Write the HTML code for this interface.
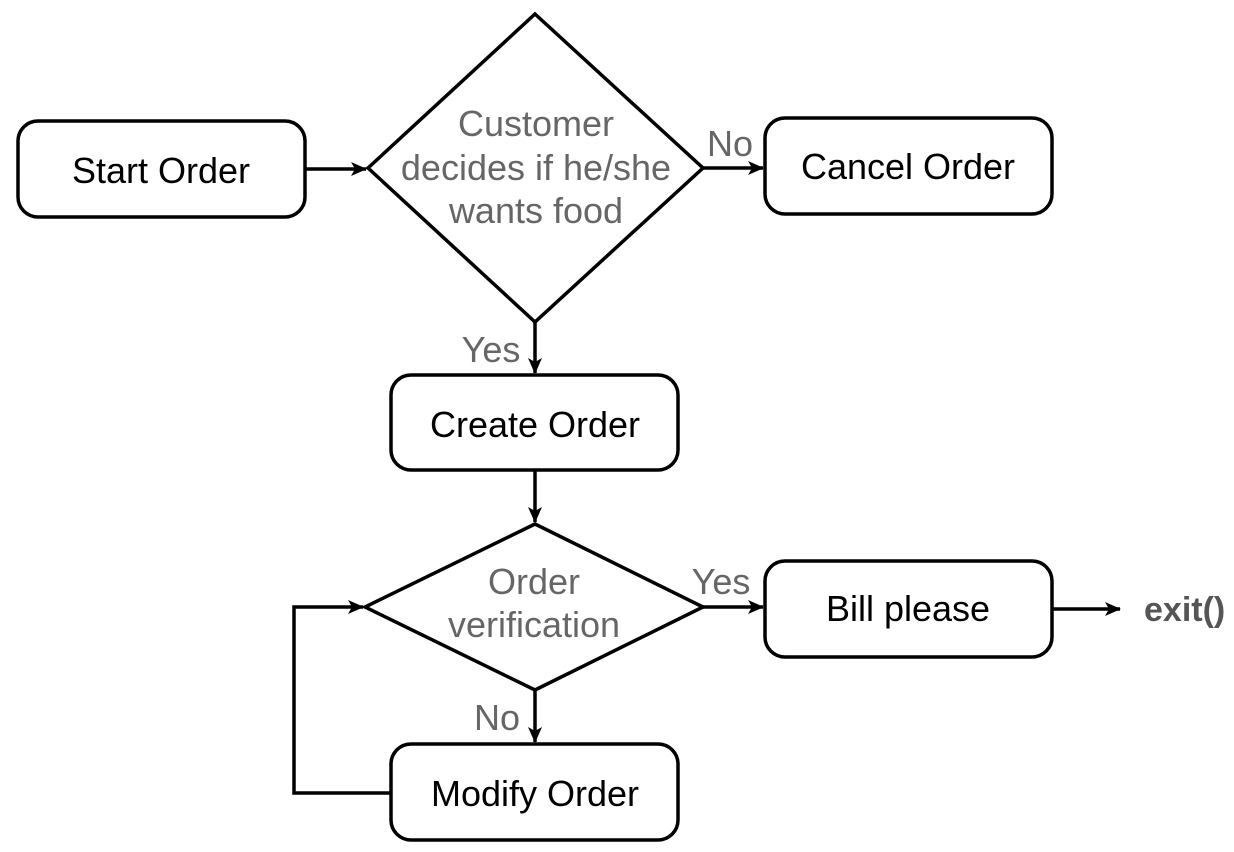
<!DOCTYPE html>
<html><head><meta charset="utf-8"><style>
html,body{margin:0;padding:0;background:#fff;}
svg{display:block;}
text{font-family:"Liberation Sans",Arial,sans-serif;font-size:36px;}
</style></head><body>
<svg width="1234" height="852" viewBox="0 0 1234 852" xmlns="http://www.w3.org/2000/svg">
<defs>
<marker id="b" markerWidth="16" markerHeight="14" refX="15" refY="7" orient="auto" markerUnits="userSpaceOnUse"><path d="M0,0 L16,7 L0,14 L4,7 z" fill="#000"/></marker></defs>
<g fill="none" stroke="#000" stroke-width="3.5">
<rect x="18" y="121" width="287" height="96" rx="20"/>
<polygon points="535,14 703,168 535,322 368,168"/>
<rect x="765" y="118" width="287" height="96" rx="20"/>
<rect x="391" y="375" width="287" height="95" rx="20"/>
<polygon points="535,524 703,607 535,690 365,607"/>
<rect x="765" y="561" width="287" height="96" rx="20"/>
<rect x="391" y="744" width="287" height="96" rx="20"/>
<line x1="305" y1="169" x2="366" y2="169" marker-end="url(#b)"/>
<line x1="703" y1="168" x2="763" y2="168" marker-end="url(#b)"/>
<line x1="535" y1="322" x2="535" y2="373" marker-end="url(#b)"/>
<line x1="535" y1="470" x2="535" y2="522" marker-end="url(#b)"/>
<line x1="703" y1="607" x2="763" y2="607" marker-end="url(#b)"/>
<line x1="1052" y1="609" x2="1120" y2="609" marker-end="url(#b)"/>
<line x1="535" y1="690" x2="535" y2="742" marker-end="url(#b)"/>
<polyline points="391,793 294,793 294,607 363,607" marker-end="url(#b)"/>
</g>
<g text-anchor="middle" fill="#000">
<text x="161" y="183">Start Order</text>
<text x="908" y="179">Cancel Order</text>
<text x="535" y="437">Create Order</text>
<text x="908" y="621">Bill please</text>
<text x="535" y="806">Modify Order</text>
</g>
<g text-anchor="middle" fill="#666">
<text x="536" y="136">Customer</text>
<text x="536" y="180">decides if he/she</text>
<text x="536" y="223">wants food</text>
<text x="534" y="594">Order</text>
<text x="534" y="637">verification</text>
<text x="730" y="156">No</text>
<text x="491" y="362">Yes</text>
<text x="721" y="594">Yes</text>
<text x="497" y="730">No</text>
</g>
<text x="1144" y="621" fill="#555" font-weight="bold" style="font-size:34px">exit()</text>
</svg>
</body></html>
